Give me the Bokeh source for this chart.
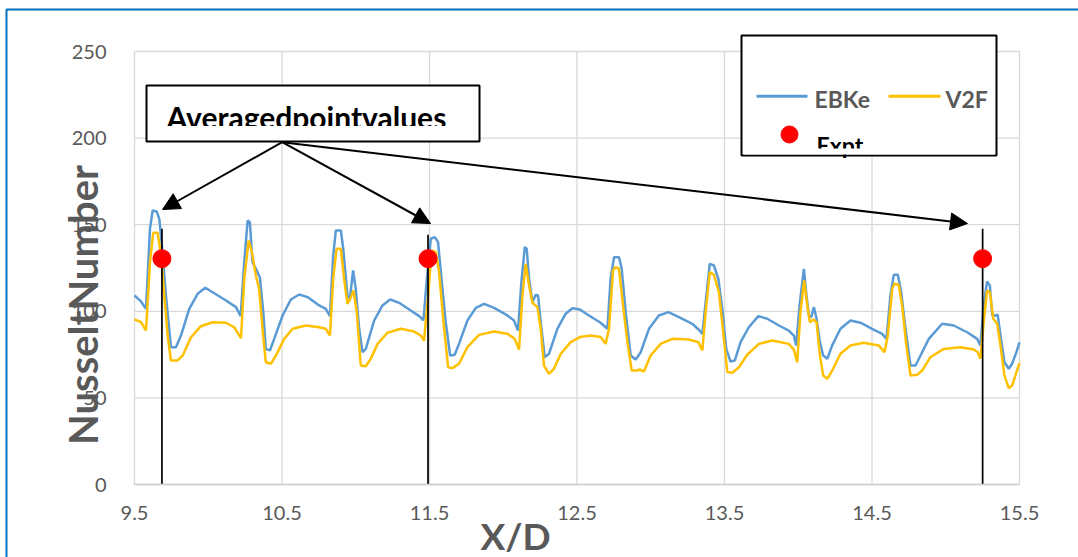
import numpy as np
from bokeh.plotting import figure
from bokeh.models import FixedTicker, Range1d, Arrow, NormalHead
from bokeh.core.properties import value
from bokeh.embed import file_html
from bokeh.resources import INLINE

# ---------------- data ----------------
xd_ebke = [9.50, 9.544, 9.578, 9.605, 9.623, 9.65, 9.668, 9.686, 9.713, 9.747, 9.781, 9.815,
           9.871, 9.928, 9.98, 10.03, 10.12, 10.188, 10.22, 10.244, 10.267, 10.282, 10.30,
           10.323, 10.35, 10.373, 10.39, 10.418, 10.447, 10.504, 10.56, 10.617, 10.673,
           10.752, 10.797, 10.825, 10.847, 10.865, 10.899, 10.915, 10.944, 10.96, 10.982,
           11.0, 11.023, 11.046, 11.068, 11.125, 11.181, 11.233, 11.294, 11.373, 11.43,
           11.459, 11.482, 11.509, 11.536, 11.558, 11.581, 11.61, 11.64, 11.671, 11.70,
           11.757, 11.814, 11.87, 11.938, 12.028, 12.073, 12.10, 12.123, 12.146, 12.159,
           12.175, 12.198, 12.22, 12.236, 12.254, 12.281, 12.31, 12.367, 12.423, 12.469,
           12.52, 12.581, 12.66, 12.706, 12.728, 12.751, 12.785, 12.803, 12.83, 12.864,
           12.898, 12.932, 12.988, 13.055, 13.12, 13.191, 13.282, 13.331, 13.35, 13.377,
           13.40, 13.428, 13.458, 13.485, 13.512, 13.541, 13.57, 13.609, 13.665, 13.729,
           13.79, 13.869, 13.936, 13.97, 13.986, 14.009, 14.038, 14.056, 14.072, 14.088,
           14.106, 14.124, 14.147, 14.169, 14.197, 14.23, 14.286, 14.354, 14.422, 14.501,
           14.569, 14.598, 14.625, 14.648, 14.675, 14.698, 14.727, 14.761, 14.795, 14.829,
           14.885, 14.976, 15.054, 15.145, 15.213, 15.235, 15.257, 15.28, 15.299, 15.315,
           15.337, 15.352, 15.371, 15.398, 15.427, 15.45, 15.479, 15.5]
nu_ebke = [109.1, 105.7, 101.4, 147.6, 158.2, 157.6, 153.4, 138.0, 109.0, 79.3, 79.3, 86.0,
           101.4, 110.1, 113.6, 111.0, 106.2, 102.4, 97.2, 128.4, 152.4, 151.5, 128.4,
           124.5, 119.7, 99.5, 78.3, 77.4, 84.1, 97.6, 106.8, 109.7, 108.2,
           103.4, 101.4, 97.2, 132.2, 146.7, 146.7, 136.1, 109.1, 107.2, 123.6,
           113.0, 89.9, 76.4, 78.3, 94.7, 103.4, 106.8, 104.9, 100.5, 97.2,
           94.7, 118.8, 141.9, 142.8, 139.9, 118.8, 93.7, 74.5, 74.9, 81.2,
           94.7, 102.0, 104.3, 102.0, 97.6, 94.7, 88.9, 116.8, 137.0, 136.1,
           118.8, 105.3, 109.5, 109.1, 93.7, 73.5, 75.5, 89.9, 98.6, 101.8,
           101.0, 97.6, 93.4, 89.9, 118.8, 131.2, 131.2, 124.5, 99.5, 74.5,
           72.2, 76.4, 89.9, 97.6, 99.5, 96.6, 92.8, 88.9, 87.0, 109.1,
           127.4, 126.5, 118.8, 101.4, 78.3, 71.0, 71.6, 82.2, 90.8, 97.2,
           95.7, 91.8, 88.9, 86.0, 80.3, 103.4, 124.5, 109.1, 97.6, 96.6,
           102.4, 95.7, 82.2, 74.5, 72.6, 80.3, 89.9, 94.7, 93.4, 89.9,
           87.0, 84.1, 109.1, 121.1, 121.1, 111.0, 89.9, 68.7, 68.7, 74.5,
           84.1, 92.8, 91.8, 87.9, 84.1, 80.3, 103.4, 117.2, 114.9, 97.6,
           97.6, 98.0, 86.0, 70.6, 66.8, 69.7, 76.4, 82.0]

xd_v2f = [9.50, 9.544, 9.578, 9.605, 9.627, 9.657, 9.68, 9.702, 9.725, 9.747, 9.793, 9.827,
          9.883, 9.95, 10.03, 10.12, 10.176, 10.222, 10.244, 10.274, 10.296, 10.323, 10.345,
          10.368, 10.39, 10.425, 10.459, 10.515, 10.572, 10.662, 10.752, 10.797, 10.825,
          10.847, 10.87, 10.899, 10.921, 10.944, 10.967, 10.985, 11.007, 11.034, 11.068,
          11.102, 11.148, 11.215, 11.306, 11.396, 11.441, 11.463, 11.491, 11.514, 11.543,
          11.565, 11.595, 11.626, 11.656, 11.70, 11.757, 11.836, 11.938, 12.028, 12.078,
          12.107, 12.13, 12.152, 12.175, 12.198, 12.232, 12.254, 12.276, 12.31, 12.344,
          12.39, 12.457, 12.52, 12.593, 12.66, 12.694, 12.717, 12.744, 12.762, 12.785,
          12.812, 12.842, 12.871, 12.909, 12.925, 12.954, 12.999, 13.067, 13.146, 13.259,
          13.322, 13.35, 13.372, 13.40, 13.428, 13.462, 13.489, 13.519, 13.553, 13.598,
          13.654, 13.733, 13.824, 13.936, 13.97, 13.993, 14.015, 14.04, 14.061, 14.079,
          14.102, 14.124, 14.147, 14.169, 14.197, 14.23, 14.286, 14.354, 14.444, 14.546,
          14.585, 14.607, 14.637, 14.652, 14.681, 14.704, 14.733, 14.761, 14.806, 14.84,
          14.896, 14.986, 15.10, 15.19, 15.217, 15.235, 15.257, 15.28, 15.299, 15.322,
          15.349, 15.371, 15.398, 15.427, 15.45, 15.479, 15.5]
nu_v2f = [95.3, 93.7, 88.9, 128.4, 145.3, 145.3, 132.2, 109.1, 86.0, 71.6, 71.6, 74.5,
          85.0, 91.4, 93.7, 93.4, 90.8, 84.5, 118.8, 140.9, 134.1, 120.7, 113.0,
          89.9, 70.6, 69.7, 74.5, 84.1, 89.9, 91.8, 90.8, 89.9, 86.0,
          118.8, 136.1, 136.1, 118.8, 104.3, 108.2, 112.0, 99.5, 68.7, 68.3,
          72.6, 81.2, 87.6, 89.9, 88.3, 86.0, 83.1, 109.1, 135.1, 134.1,
          122.6, 93.7, 67.7, 67.2, 69.7, 79.3, 86.4, 88.3, 87.0, 84.1,
          77.9, 109.1, 127.4, 114.9, 104.9, 102.4, 89.9, 68.7, 63.9, 66.8,
          75.5, 82.2, 85.1, 86.0, 85.1, 81.2, 89.9, 123.6, 125.5, 124.5,
          103.4, 82.2, 65.8, 65.8, 66.4, 65.2, 74.5, 81.2, 84.1, 83.7,
          82.2, 77.4, 99.5, 122.6, 121.1, 111.0, 89.9, 64.9, 64.5, 67.7,
          74.9, 81.2, 83.1, 81.2, 77.9, 70.6, 99.5, 117.8, 103.4, 93.7,
          95.3, 93.7, 74.5, 62.9, 61.0, 65.8, 75.5, 80.3, 81.8, 80.3,
          76.4, 86.0, 113.0, 115.9, 115.3, 103.4, 80.3, 62.9, 63.3, 65.8,
          73.5, 78.3, 79.3, 77.9, 76.4, 72.6, 93.7, 112.0, 111.0, 95.7,
          92.8, 80.3, 62.9, 55.6, 57.2, 64.8, 70.0]

xd_expt = [9.686, 11.49, 15.25]
nu_expt = [130.4, 130.4, 130.4]
marker_top = [147.6, 144.2, 147.6]

x_ticks = [9.5, 10.5, 11.5, 12.5, 13.5, 14.5, 15.5]
y_ticks = [0, 50, 100, 150, 200, 250]

series_names = ["EBKe", "V2F", "Expt."]
annotation_text = "Averagedpointvalues"
x_title = "X/D"
y_title = "NusseltNumber"

# ---------------- layout ----------------
W, H = 1078, 557
FL, FR, FT, FB = 134, 1019, 51, 484       # pixel box of the data area
X0, X1, Y0, Y1 = 9.5, 15.5, 0.0, 250.0


def px2x(px):
    return X0 + (px - FL) * (X1 - X0) / (FR - FL)


def px2y(py):
    return Y0 + (FB - py) * (Y1 - Y0) / (FB - FT)


BLUE = "#5B9BD5"
GOLD = "#FFC000"
GREY = "#595959"
GRID = "#D9D9D9"
FONT = "Lato"

# frame covers the whole canvas; axes are fixed inside it
p = figure(width=W, height=H, output_backend="svg", toolbar_location=None,
           x_range=Range1d(px2x(0), px2x(W)), y_range=Range1d(px2y(H), px2y(0)),
           min_border_left=0, min_border_right=0, min_border_top=0, min_border_bottom=0)
p.outline_line_color = None
p.background_fill_color = "white"
p.border_fill_color = "white"

p.xaxis.ticker = FixedTicker(ticks=x_ticks)
p.yaxis.ticker = FixedTicker(ticks=y_ticks)
p.xaxis.fixed_location = Y0
p.yaxis.fixed_location = X0
p.xaxis.bounds = (X0, X1)
p.yaxis.bounds = (Y0, Y1)
for ax in (p.xaxis, p.yaxis):
    ax.major_tick_line_color = None
    ax.minor_tick_line_color = None
    ax.major_label_text_font = FONT
    ax.major_label_text_font_size = "20px"
    ax.major_label_text_color = GREY
p.xaxis.axis_line_color = "#CFCFCF"
p.xaxis.axis_line_width = 1.5
p.yaxis.axis_line_color = None
p.xaxis.major_label_standoff = 15
p.yaxis.major_label_standoff = 22

# grid lines limited to the data box (drawn from the tick lists)
p.xgrid.visible = False
p.ygrid.visible = False
p.segment(x0=x_ticks, y0=[Y0] * len(x_ticks), x1=x_ticks, y1=[Y1] * len(x_ticks),
          line_color=GRID, line_width=1.3, level="underlay")
p.segment(x0=[X0] * len(y_ticks), y0=y_ticks, x1=[X1] * len(y_ticks), y1=y_ticks,
          line_color=GRID, line_width=1.3, level="underlay")

# series
p.line(xd_ebke, nu_ebke, line_color=BLUE, line_width=2.5)
p.line(xd_v2f, nu_v2f, line_color=GOLD, line_width=2.5)
p.segment(x0=xd_expt, y0=[0] * len(xd_expt), x1=xd_expt, y1=marker_top,
          line_color="black", line_width=1.7)
p.scatter(xd_expt, nu_expt, size=18, fill_color="#FF0000", line_color="#FF0000")

# annotation box with (bottom-clipped) text
p.quad(left=[px2x(146)], right=[px2x(479)], top=[px2y(85)], bottom=[px2y(141)],
       fill_color="white", line_color="black", line_width=2)
p.text(x=[px2x(166)], y=[px2y(116)], text=[annotation_text],
       text_font=value(FONT), text_font_style="bold", text_font_size="30px",
       text_color="black", text_baseline="alphabetic", text_align="left")
p.quad(left=[px2x(148)], right=[px2x(477)], top=[px2y(125.5)], bottom=[px2y(139.5)],
       fill_color="white", line_color=None)

# arrows
sx, sy = px2x(281.7), px2y(141.7)
for ex, ey in [(px2x(162), px2y(209)), (px2x(430), px2y(223)), (px2x(967), px2y(223))]:
    p.add_layout(Arrow(end=NormalHead(size=17, fill_color="black", line_color="black", line_width=1),
                       x_start=sx, y_start=sy, x_end=ex, y_end=ey,
                       line_color="black", line_width=2))

# legend box (drawn manually to match the reference)
p.quad(left=[px2x(741)], right=[px2x(996)], top=[px2y(35)], bottom=[px2y(155)],
       fill_color="white", line_color="black", line_width=2)
ly = px2y(95.7)
p.line([px2x(756), px2x(807)], [ly, ly], line_color=BLUE, line_width=3)
p.line([px2x(888), px2x(940)], [ly, ly], line_color=GOLD, line_width=3)
p.text(x=[px2x(814), px2x(945)], y=[px2y(98.5)] * 2, text=series_names[:2],
       text_font=value(FONT), text_font_style="bold", text_font_size="23px",
       text_color=GREY, text_baseline="alphabetic")
p.scatter([px2x(789)], [px2y(134)], size=17, fill_color="#FF0000", line_color="#FF0000")
p.text(x=[px2x(816)], y=[px2y(144)], text=[series_names[2]],
       text_font=value(FONT), text_font_style="bold", text_font_size="23px",
       text_color="black", text_baseline="alphabetic")
p.quad(left=[px2x(743)], right=[px2x(994)], top=[px2y(148)], bottom=[px2y(154)],
       fill_color="white", line_color=None)

# axis titles
p.text(x=[px2x(82)], y=[px2y(304.5)], text=[y_title], angle=90, angle_units="deg",
       text_font=value(FONT), text_font_style="bold", text_font_size="40px",
       text_color=GREY, text_align="center", text_baseline="alphabetic")
p.text(x=[px2x(515)], y=[px2y(535)], text=[x_title],
       text_font=value(FONT), text_font_style="bold", text_font_size="37px",
       text_color=GREY, text_align="center", text_baseline="alphabetic")

# outer chart border
p.quad(left=[px2x(6)], right=[px2x(1200)], top=[px2y(9)], bottom=[px2y(700)],
       fill_color=None, line_color="#0070C0", line_width=2)

open("out.html", "w").write(file_html(p, INLINE))
